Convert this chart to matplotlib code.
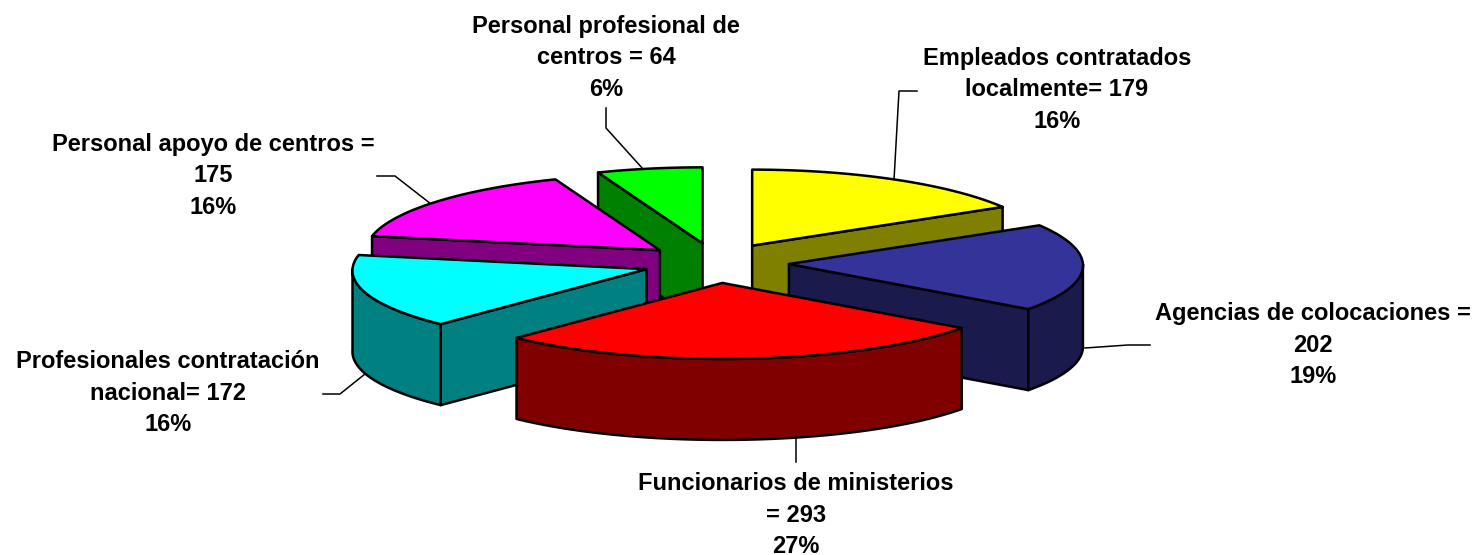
""" Exploded 3D pie of staff by category, drawn on a pixel-sized axes. """

import numpy as np
import matplotlib.pyplot as plt
from matplotlib.patches import Polygon

# clockwise from 12 o'clock
values = [179, 202, 293, 172, 175, 64]
percents = [16, 19, 27, 16, 16, 6]
labels = [
    "Empleados contratados\nlocalmente= 179",
    "Agencias de colocaciones =\n202",
    "Funcionarios de ministerios\n= 293",
    "Profesionales contratación\nnacional= 172",
    "Personal apoyo de centros =\n175",
    "Personal profesional de\ncentros = 64",
]
top_colors = ["#ffff00", "#333399", "#ff0000", "#00ffff", "#ff00ff", "#00ff00"]
side_colors = ["#808000", "#1a1a4d", "#800000", "#008080", "#800080", "#008000"]
label_pos = [(1057, 90), (1313, 345), (796, 515), (168, 393), (213, 176), (606, 58)]
leaders = [
    [(894, 180), (899, 91), (917, 91)],
    [(1085, 348), (1128, 345), (1150, 345)],
    [(796, 438), (796, 462)],
    [(365, 374), (340, 394), (323, 394)],
    [(431, 204), (395, 176), (377, 176)],
    [(643, 169), (606, 128), (606, 108)],
]

# back to front
draw_order = [5, 4, 0, 1, 3, 2]

CX, CY = 716, 263
RX, RY = 294, 76
EX, EY = 73, 20
DEPTH = 81
# front of the pie is a little wider than the back
PERSPECTIVE = 0.02


def rim_point(x0, y0, theta):
    scale = 1 - PERSPECTIVE * np.cos(theta)
    return x0 + RX * scale * np.sin(theta), y0 - RY * np.cos(theta)


def draw_face(ax, pts, color, zorder):
    ax.add_patch(
        Polygon(pts, closed=True, facecolor=color, edgecolor="black", lw=1.8,
                joinstyle="round", zorder=zorder)
    )


def draw_wedge(ax, start, end, top, side, zorder):
    mid = (start + end) / 2
    x0 = CX + EX * np.sin(mid)
    y0 = CY - EY * np.cos(mid)

    # radial walls, only the ones facing the viewer
    for theta, visible in ((start, np.sin(start) < 0), (end, np.sin(end) > 0)):
        if visible:
            x1, y1 = rim_point(x0, y0, theta)
            draw_face(ax, [(x0, y0), (x1, y1), (x1, y1 + DEPTH), (x0, y0 + DEPTH)],
                      side, zorder)

    # outer wall, front half of the ellipse only
    lo, hi = max(start, np.pi / 2), min(end, 3 * np.pi / 2)
    if lo < hi:
        t = np.linspace(lo, hi, 80)
        xs, ys = rim_point(x0, y0, t)
        pts = list(zip(xs, ys)) + list(zip(xs[::-1], ys[::-1] + DEPTH))
        draw_face(ax, pts, side, zorder + 0.1)

    # top face
    t = np.linspace(start, end, 80)
    xs, ys = rim_point(x0, y0, t)
    draw_face(ax, [(x0, y0)] + list(zip(xs, ys)), top, zorder + 0.2)


def main():
    fig = plt.figure(figsize=(14.78, 5.55), dpi=100)
    ax = fig.add_axes([0, 0, 1, 1])
    ax.set_xlim(0, 1478)
    ax.set_ylim(555, 0)
    ax.axis("off")

    edges = np.concatenate(([0], np.cumsum(values))) / sum(values) * 2 * np.pi
    for z, i in enumerate(draw_order):
        draw_wedge(ax, edges[i], edges[i + 1], top_colors[i], side_colors[i], 2 + z)

    for line in leaders:
        xs, ys = zip(*line)
        ax.plot(xs, ys, color="black", lw=1.1, zorder=1)

    for label, pct, (x, y) in zip(labels, percents, label_pos):
        ax.text(x, y, f"{label}\n{pct}%", ha="center", va="center",
                family="Liberation Sans", weight="bold", size=17,
                linespacing=1.46, color="black", zorder=10)

    fig.savefig("out.png", dpi=100)


if __name__ == "__main__":
    main()
